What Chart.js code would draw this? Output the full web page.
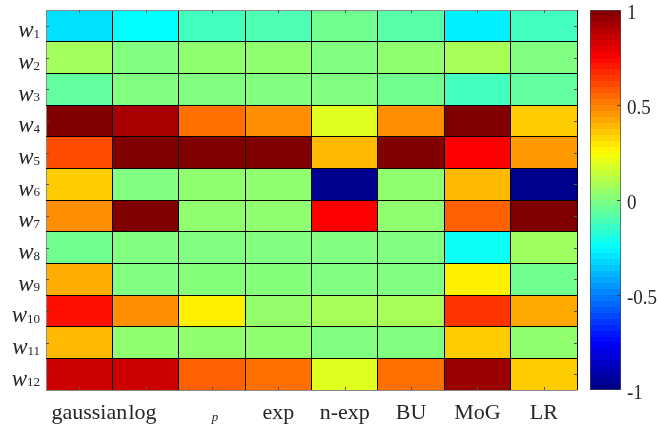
<!DOCTYPE html>
<html>
<head>
<meta charset="utf-8">
<script src="https://cdn.jsdelivr.net/npm/chart.js@4"></script>
<style>
  body { margin: 0; background: #fff; }
  #wrap { position: relative; width: 657px; height: 425px; }
  #wrap canvas { position: absolute; left: 0; top: 0; }
</style>
</head>
<body>
<div id="wrap">
  <canvas id="heat" width="657" height="425"></canvas>
  <canvas id="cbar" width="657" height="425"></canvas>
</div>
<script>
// rows top to bottom, columns left to right
const rows = ['w1', 'w2', 'w3', 'w4', 'w5', 'w6', 'w7', 'w8', 'w9', 'w10', 'w11', 'w12'];
const columns = ['gaussian', 'log', 'p', 'exp', 'n-exp', 'BU', 'MoG', 'LR'];

// one value per row (w1..w12) for each column
const gaussian = [-0.31, 0.07, -0.06, 1.0, 0.6, 0.35, 0.47, -0.03, 0.41, 0.72, 0.385, 0.85];
const logv     = [-0.25, 0.0, 0.0, 0.92, 1.0, 0.0, 1.0, 0.0, 0.0, 0.47, 0.03, 0.85];
const pv       = [-0.12, 0.03, 0.0, 0.53, 1.0, 0.03, 0.03, 0.0, 0.01, 0.28, 0.03, 0.56];
const expv     = [-0.1, 0.03, 0.0, 0.47, 1.0, 0.03, 0.03, 0.0, 0.01, 0.04, 0.03, 0.53];
const nexp     = [-0.03, 0.0, 0.0, 0.19, 0.385, -0.97, 0.75, 0.0, 0.0, 0.08, 0.0, 0.19];
const bu       = [-0.08, 0.03, -0.03, 0.47, 1.0, 0.03, 0.03, 0.0, 0.0, 0.08, 0.0, 0.53];
const mog      = [-0.28, 0.08, -0.12, 1.0, 0.75, 0.385, 0.56, -0.23, 0.28, 0.65, 0.35, 0.95];
const lr       = [-0.12, 0.0, -0.06, 0.35, 0.45, -0.97, 1.0, 0.06, -0.03, 0.42, 0.03, 0.35];

const colorTicks = [-1, -0.5, 0, 0.5, 1];

const series = [gaussian, logv, pv, expv, nexp, bu, mog, lr];

function jet(v) {
  const t = (v + 1) / 2;
  const f = x => Math.round(255 * Math.min(1, Math.max(0, 1.5 - Math.abs(x))));
  return `rgb(${f(4 * t - 3)},${f(4 * t - 2)},${f(4 * t - 1)})`;
}

const textColor = '#262626';
const serif = '"Liberation Serif", "Times New Roman", serif';

const labelsPlugin = {
  id: 'labels',
  afterDraw(chart) {
    const ctx = chart.ctx;
    const xs = chart.scales.x, ys = chart.scales.y;
    const area = chart.chartArea;
    ctx.save();

    // small inward tick marks on the frame
    ctx.strokeStyle = '#555';
    ctx.lineWidth = 1;
    ctx.beginPath();
    columns.forEach((c, i) => {
      const x = Math.round(xs.getPixelForValue(i)) + 0.5;
      ctx.moveTo(x, area.top); ctx.lineTo(x, area.top + 3);
      ctx.moveTo(x, area.bottom); ctx.lineTo(x, area.bottom - 3);
    });
    rows.forEach((r, i) => {
      const y = Math.round(ys.getPixelForValue(i + 0.5)) + 0.5;
      ctx.moveTo(area.left, y); ctx.lineTo(area.left + 3, y);
      ctx.moveTo(area.right, y); ctx.lineTo(area.right - 3, y);
    });
    ctx.stroke();

    ctx.fillStyle = textColor;
    ctx.textBaseline = 'alphabetic';

    // row labels: italic w with subscript index
    rows.forEach((r, i) => {
      const y = ys.getPixelForValue(i + 0.5) + 11.5;
      const sub = r.slice(1);
      ctx.font = '13px ' + serif;
      const sw = ctx.measureText(sub).width;
      ctx.textAlign = 'right';
      ctx.fillText(sub, 40, y + 0.5);
      ctx.font = 'italic 23px ' + serif;
      ctx.fillText(r[0], 40 - sw, y);
    });

    // column labels
    columns.forEach((c, i) => {
      const x = xs.getPixelForValue(i);
      if (c === 'p') {
        ctx.textAlign = 'center';
        ctx.font = 'italic 13px ' + serif;
        ctx.fillText(c, x + 3, 421);
        return;
      }
      ctx.font = '22px ' + serif;
      if (c === 'gaussian') {
        ctx.textAlign = 'right';
        ctx.fillText(c, x + 48, 419);
        return;
      }
      ctx.textAlign = 'center';
      ctx.fillText(c, c === 'log' ? x - 3 : x, 419);
    });
    ctx.restore();
  }
};

const edgeColor = n => ctx => (ctx.index === 0 || ctx.index === n) ? '#8a8a8a' : '#000';

new Chart(document.getElementById('heat'), {
  type: 'bar',
  data: {
    labels: columns,
    datasets: rows.map((r, ri) => ({
      label: r,
      data: columns.map(() => 1),
      backgroundColor: series.map(s => jet(s[ri])),
      borderWidth: 0,
      barPercentage: 1,
      categoryPercentage: 1
    }))
  },
  options: {
    responsive: false,
    animation: false,
    layout: { padding: { left: 46, top: 10, right: 80, bottom: 35 } },
    plugins: { legend: { display: false }, tooltip: { enabled: false } },
    scales: {
      x: {
        stacked: true,
        ticks: { display: false },
        grid: { z: 1, color: edgeColor(columns.length), lineWidth: 1, drawTicks: false },
        border: { display: false },
        afterFit: s => { s.height = 0; }
      },
      y: {
        stacked: true,
        reverse: true,
        min: 0,
        max: rows.length,
        ticks: { display: false, stepSize: 1 },
        grid: { z: 1, color: edgeColor(rows.length), lineWidth: 1, drawTicks: false },
        border: { display: false },
        afterFit: s => { s.width = 0; }
      }
    }
  },
  plugins: [labelsPlugin]
});

// colour bar
function barGradient(context) {
  const chart = context.chart;
  const area = chart.chartArea;
  if (!area) return '#888';
  const g = chart.ctx.createLinearGradient(0, area.bottom, 0, area.top);
  const n = 64;
  for (let k = 0; k < n; k++) {
    const c = jet(-1 + 2 * (k + 0.5) / n);
    g.addColorStop(k / n, c);
    g.addColorStop((k + 1) / n, c);
  }
  return g;
}

const cbarLabels = {
  id: 'cbarLabels',
  afterDraw(chart) {
    const ctx = chart.ctx, ys = chart.scales.y, area = chart.chartArea;
    ctx.save();
    ctx.strokeStyle = '#444';
    ctx.lineWidth = 1;
    ctx.beginPath();
    colorTicks.slice(1, -1).forEach(v => {
      const y = Math.round(ys.getPixelForValue(v)) + 0.5;
      ctx.moveTo(area.right - 4, y); ctx.lineTo(area.right, y);
    });
    ctx.stroke();
    ctx.fillStyle = textColor;
    ctx.textAlign = 'left';
    ctx.textBaseline = 'middle';
    ctx.font = '19px ' + serif;
    colorTicks.forEach(v => {
      const y = ys.getPixelForValue(v) + 3;
      ctx.save();
      ctx.translate(area.right + 6, y);
      ctx.scale(1, 1.12);
      ctx.fillText(String(v), 0, 0);
      ctx.restore();
    });
    ctx.restore();
  }
};

new Chart(document.getElementById('cbar'), {
  type: 'bar',
  data: {
    labels: [''],
    datasets: [{
      data: [[colorTicks[0], colorTicks[colorTicks.length - 1]]],
      backgroundColor: barGradient,
      borderColor: '#4a4a4a',
      borderWidth: 1,
      borderSkipped: false,
      barPercentage: 1,
      categoryPercentage: 1
    }]
  },
  options: {
    responsive: false,
    animation: false,
    layout: { padding: { left: 590, top: 10, right: 36, bottom: 35 } },
    plugins: { legend: { display: false }, tooltip: { enabled: false } },
    scales: {
      x: { display: false },
      y: { display: false, min: -1, max: 1 }
    }
  },
  plugins: [cbarLabels]
});
</script>
</body>
</html>
